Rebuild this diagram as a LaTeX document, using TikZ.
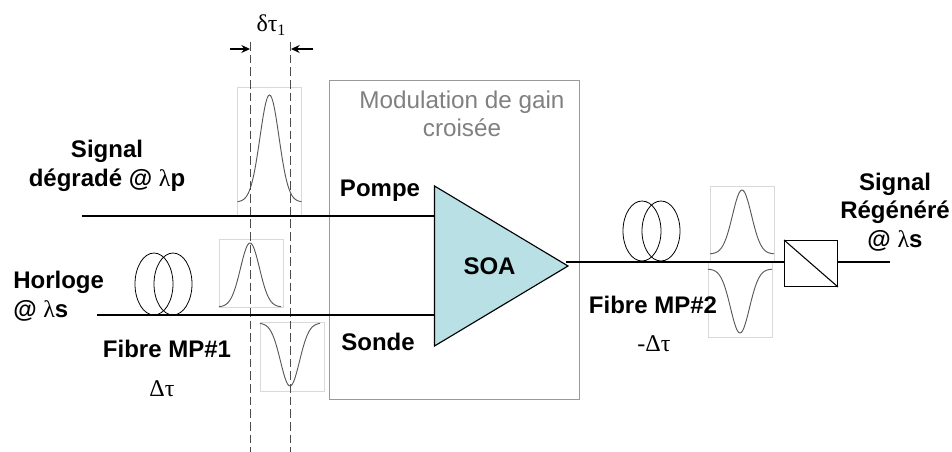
\documentclass[tikz,border=0pt]{standalone}
\usepackage{fontspec}
\setmainfont{Liberation Sans}
\newfontfamily\grk{Liberation Serif}
\usetikzlibrary{arrows.meta}
\definecolor{soafill}{HTML}{B9E0E4}
\newcommand{\pulseb}[4]{% centre x, baseline y, amplitude (signed, px), half window
  \draw[pulse] plot[domain=-#4:#4,samples=61,smooth] ({#1+\x},{#2-(#3)*exp(-(\x*\x)/(2*9.5*9.5))});}
\tikzset{
  x=0.75pt,y=-0.75pt,
  wire/.style={draw=black,line width=0.9pt},
  thin wire/.style={draw=black,line width=0.8pt},
  pulse/.style={draw=black!65,line width=0.7pt},
  pulsebox/.style={draw=black!15,line width=0.5pt},
  guide/.style={draw=black!70,line width=0.8pt,dash pattern=on 6.5pt off 3pt},
  coil/.style={draw=black,line width=0.6pt},
  lab/.style={font=\fontsize{18}{21.5}\selectfont\bfseries,align=center,inner sep=0pt,text=black},
  grklab/.style={font=\grk\fontsize{18}{21}\selectfont,inner sep=0pt,text=black},
  note/.style={font=\fontsize{18.2}{21}\selectfont,align=center,inner sep=0pt,text=black!50},
}
\begin{document}
\begin{tikzpicture}
\useasboundingbox (0,0) rectangle (952,452);
% pulse windows
\draw[pulsebox] (237,87) rectangle (301,216);
\draw[pulsebox] (219,239) rectangle (283,307);
\draw[pulsebox] (260,322) rectangle (324,391);
\draw[pulsebox] (710,186) rectangle (774,262);
\draw[pulsebox] (708,262) rectangle (772,337);
% gain box
\node[draw=black!40,line width=0.9pt,minimum width=187.5pt,minimum height=239.25pt,inner sep=0pt,anchor=north west] (gainbox) at (329,80) {};
\node[note] (gaintxt) at (462,114) {Modulation de gain\\croisée};
% pulses
\pulseb{269.5}{202}{107}{32}
\pulseb{250}{307}{64}{31}
\pulseb{290}{323}{-63}{30}
\pulseb{742}{254}{64}{32}
\pulseb{740}{269}{-64}{32}
% guides
\coordinate (g1t) at (250.5,42); \coordinate (g1b) at (250.5,452);
\coordinate (g2t) at (290.5,42); \coordinate (g2b) at (290.5,452);
\draw[guide] (g1t) -- (g1b);
\draw[guide] (g2t) -- (g2b);
\coordinate (a1s) at (230,49); \coordinate (a1e) at (250,49);
\coordinate (a2s) at (313,49); \coordinate (a2e) at (291,49);
\draw[thin wire,-{Stealth[length=6.5pt,width=6pt]}] (a1s) -- (a1e);
\draw[thin wire,-{Stealth[length=6.5pt,width=6pt]}] (a2s) -- (a2e);
\node[grklab,font=\grk\fontsize{18}{20}\selectfont] (dt) at (271,25) {δτ\raisebox{-0.4ex}{\fontsize{12}{12}\selectfont 1}};
% SOA
\coordinate (t1) at (434.5,186); \coordinate (t2) at (434.5,346); \coordinate (t3) at (568,266);
\draw[fill=soafill,draw=black,line width=0.85pt] (t1) -- (t3) -- (t2) -- cycle;
\node[lab] (soa) at (489.5,266) {SOA};
% wires
\coordinate (in1) at (82,216); \coordinate (in1e) at (434.5,216);
\coordinate (in2) at (97,315); \coordinate (in2e) at (434.5,315);
\coordinate (outs) at (566,262);
\node[draw=black,line width=0.7pt,minimum width=39.75pt,minimum height=34.5pt,inner sep=0pt,anchor=north west] (filt) at (784,240) {};
\coordinate (outf) at (890,262);
\draw[wire] (in1) -- (in1e);
\draw[wire] (in2) -- (in2e);
\draw[wire] (outs) -- (filt.west |- outs);
\draw[wire] (filt.east |- outs) -- (outf);
\draw[thin wire] (filt.north west) -- (filt.south east);
% coils
\draw[coil] (154,284) ellipse [x radius=19,y radius=31];
\draw[coil] (173,284) ellipse [x radius=19,y radius=31];
\draw[coil] (642,231) ellipse [x radius=19,y radius=30];
\draw[coil] (661,231) ellipse [x radius=19,y radius=30];
% labels
\node[lab] (sig) at (107,166) {Signal\\dégradé @ {\grk\mdseries λ}p};
\node[lab,align=left,anchor=west] (hor) at (13,296) {Horloge\\@ {\grk\mdseries λ}s};
\node[lab] (f1) at (167,349) {Fibre MP\#1};
\node[grklab] (d1) at (162,389) {Δτ};
\node[lab] (pompe) at (380,191) {Pompe};
\node[lab] (sonde) at (378,342) {Sonde};
\node[lab] (f2) at (653,305) {Fibre MP\#2};
\node[grklab] (d2) at (654,344) {-Δτ};
\node[lab] (sreg) at (895,212) {Signal\\Régénéré\\@ {\grk\mdseries λ}s};
\end{tikzpicture}
\end{document}
